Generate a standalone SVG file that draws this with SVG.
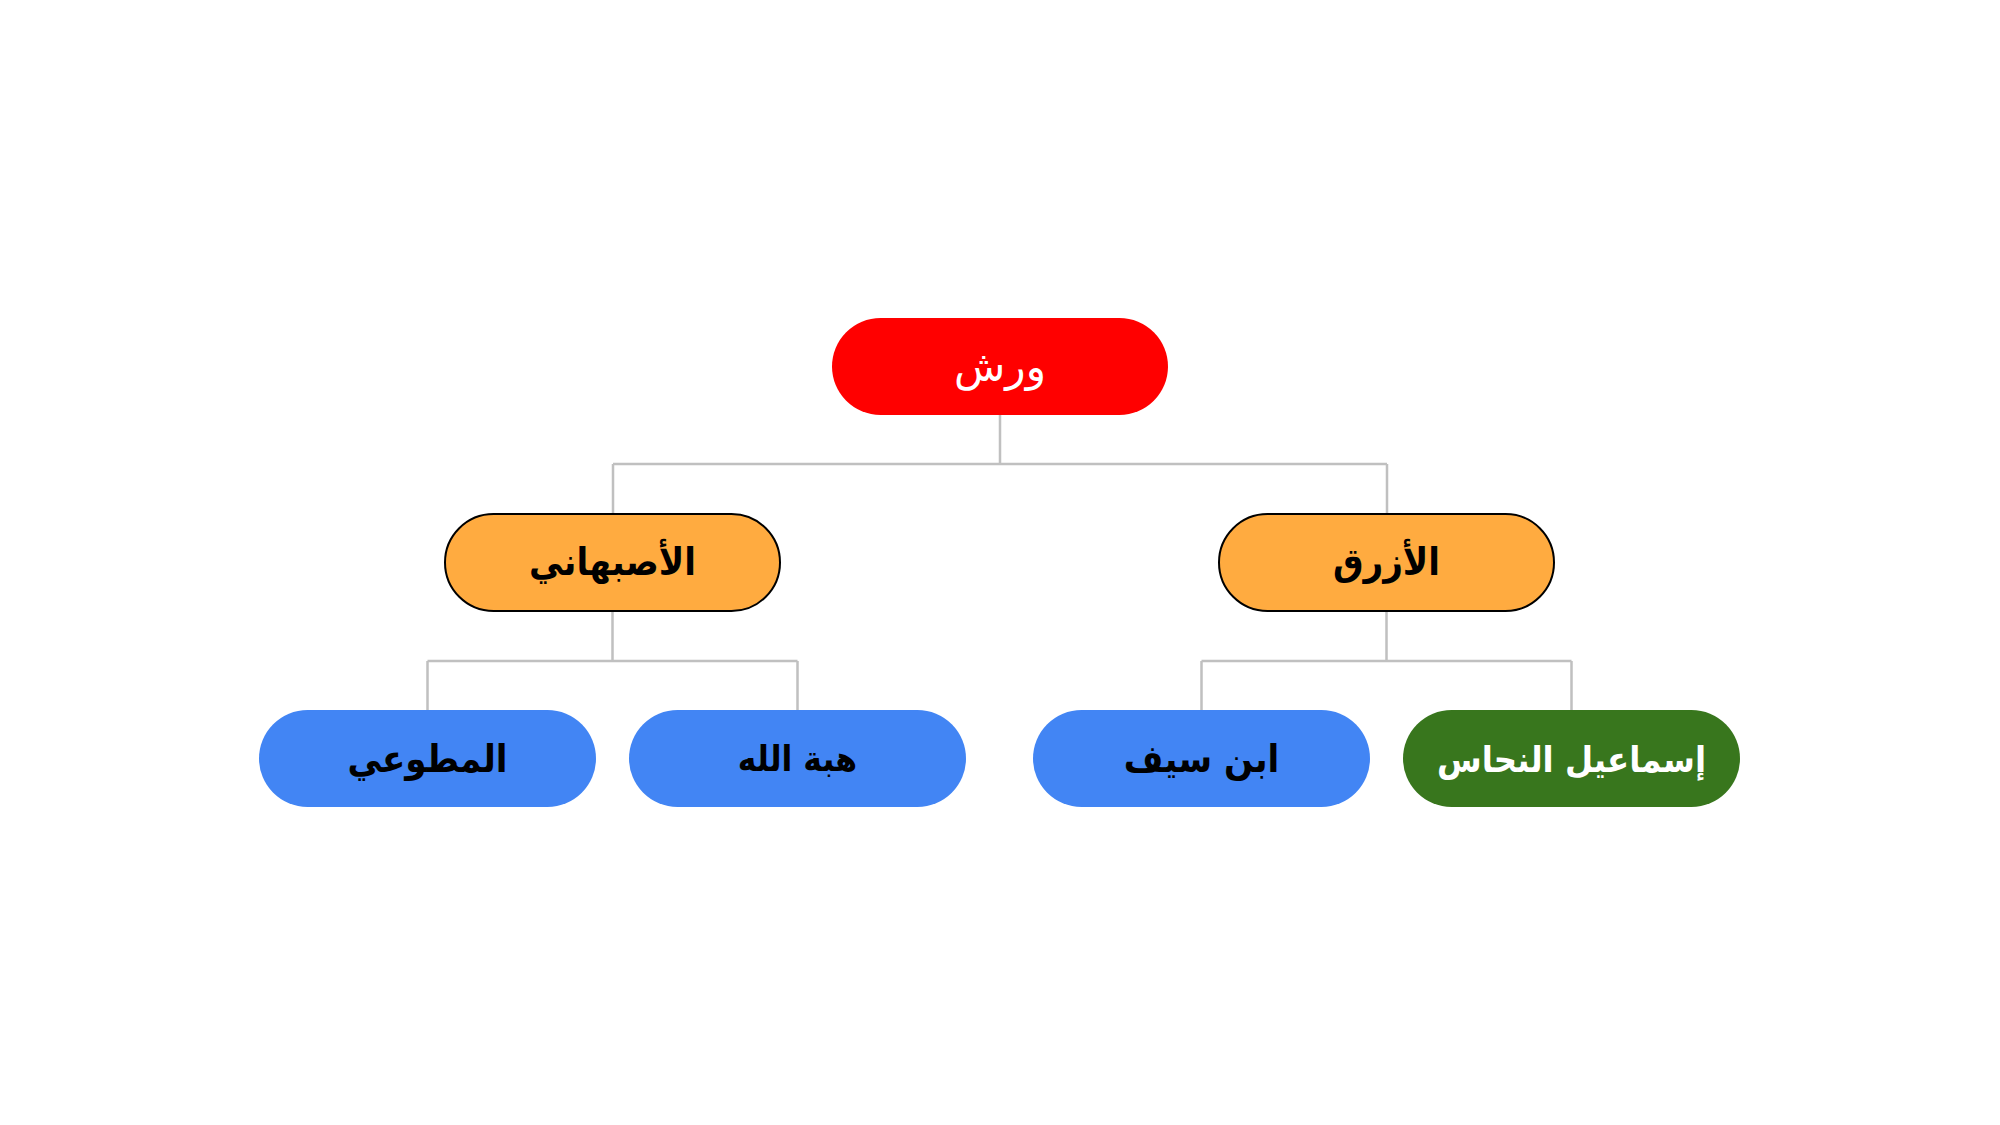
<svg xmlns="http://www.w3.org/2000/svg" width="2000" height="1125" viewBox="0 0 2000 1125">
<style>
.c{fill:none;stroke:#c0c0c0;stroke-width:2.5}
.t{font-family:"DejaVu Sans Condensed","DejaVu Sans",sans-serif;font-size:38px;text-anchor:middle;dominant-baseline:central;font-weight:bold}
.r{font-family:"DejaVu Sans",sans-serif;font-size:42px;text-anchor:middle;dominant-baseline:central;font-weight:normal}
.dk{fill:#000}
.lt{fill:#fff}
</style>
<rect width="2000" height="1125" fill="#fff"/>
<g id="connectors">
<path class="c" d="M1000 415V464M613 464H1387M613 464V514M1387 464V514"/>
<path class="c" d="M612.5 611V661M427.5 661H797.5M427.5 661V710M797.5 661V710"/>
<path class="c" d="M1386.5 611V661M1201.5 661H1571.5M1201.5 661V710M1571.5 661V710"/>
</g>
<g id="n-warsh"><rect x="832" y="318" width="336" height="97" rx="48.5" fill="#ff0000"/><text class="r lt" x="1000" y="366">ورش</text></g>
<g id="n-isfahani"><rect x="445" y="514" width="335" height="97" rx="48.5" fill="#ffab40" stroke="#000" stroke-width="2"/><text class="t dk" x="612.5" y="562">الأصبهاني</text></g>
<g id="n-azraq"><rect x="1219" y="514" width="335" height="97" rx="48.5" fill="#ffab40" stroke="#000" stroke-width="2"/><text class="t dk" x="1386.5" y="562">الأزرق</text></g>
<g id="n-mutawi"><rect x="259" y="710" width="337" height="97" rx="48.5" fill="#4285f4"/><text class="t dk" x="427.5" y="759">المطوعي</text></g>
<g id="n-hibat"><rect x="629" y="710" width="337" height="97" rx="48.5" fill="#4285f4"/><text class="t dk" x="797.5" y="759" style="font-size:35px">هبة الله</text></g>
<g id="n-ibnsayf"><rect x="1033" y="710" width="337" height="97" rx="48.5" fill="#4285f4"/><text class="t dk" x="1201.5" y="759">ابن سيف</text></g>
<g id="n-ismail"><rect x="1403" y="710" width="337" height="97" rx="48.5" fill="#38761d"/><text class="t lt" x="1571.5" y="759" style="font-size:36px">إسماعيل النحاس</text></g>
</svg>
